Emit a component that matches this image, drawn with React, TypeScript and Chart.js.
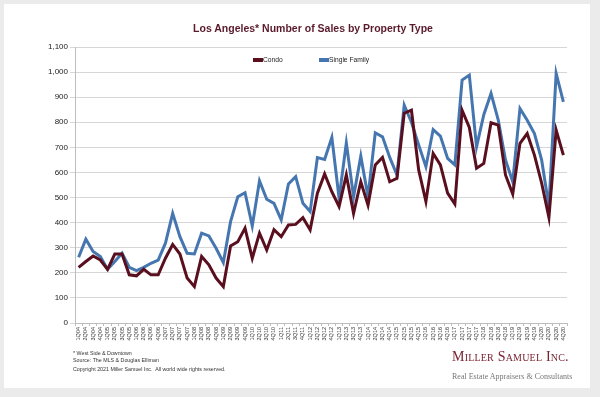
import React, { useEffect, useRef } from "react";
import { Chart, registerables } from "chart.js";
Chart.register(...registerables);

const quarters: string[] = [
  "1Q04","2Q04","3Q04","4Q04","1Q05","2Q05","3Q05","4Q05","1Q06","2Q06","3Q06","4Q06",
  "1Q07","2Q07","3Q07","4Q07","1Q08","2Q08","3Q08","4Q08","1Q09","2Q09","3Q09","4Q09",
  "1Q10","2Q10","3Q10","4Q10","1Q11","2Q11","3Q11","4Q11","1Q12","2Q12","3Q12","4Q12",
  "1Q13","2Q13","3Q13","4Q13","1Q14","2Q14","3Q14","4Q14","1Q15","2Q15","3Q15","4Q15",
  "1Q16","2Q16","3Q16","4Q16","1Q17","2Q17","3Q17","4Q17","1Q18","2Q18","3Q18","4Q18",
  "1Q19","2Q19","3Q19","4Q19","1Q20","2Q20","3Q20","4Q20",
];

const condo: number[] = [
  222, 245, 267, 251, 214, 275, 275, 192, 188, 214, 192, 192,
  258, 313, 275, 179, 145, 265, 232, 179, 145, 307, 324, 378,
  258, 358, 291, 372, 344, 391, 393, 420, 371, 517, 594, 523,
  464, 590, 437, 563, 470, 630, 660, 563, 577, 836, 848, 610,
  484, 676, 630, 518, 474, 848, 779, 617, 636, 798, 789, 590,
  514, 716, 755, 669, 557, 421, 769, 669,
];

const singleFamily: number[] = [
  262, 334, 285, 265, 214, 245, 278, 222, 209, 222, 238, 251,
  318, 437, 344, 278, 275, 358, 347, 298, 241, 404, 503, 519,
  387, 566, 493, 477, 411, 554, 583, 477, 444, 659, 652, 740,
  497, 718, 503, 665, 503, 758, 742, 660, 590, 868, 800, 710,
  623, 771, 745, 656, 630, 968, 988, 702, 830, 915, 809, 650,
  563, 855, 808, 755, 649, 464, 995, 881,
];

const seriesNames: string[] = ["Condo", "Single Family"];
const seriesColors: string[] = ["#5a0f1f", "#4676b0"];

const SANS = "'Liberation Sans', Arial, Helvetica, sans-serif";
const SERIF = "'Liberation Serif', 'Times New Roman', serif";

export default function App() {
  const canvasRef = useRef<HTMLCanvasElement | null>(null);

  useEffect(() => {
    const canvas = canvasRef.current;
    if (!canvas) return;
    const chart = new Chart(canvas, {
      type: "line",
      data: {
        labels: quarters,
        datasets: [
          {
            label: seriesNames[0],
            data: condo,
            borderColor: seriesColors[0],
            backgroundColor: seriesColors[0],
            borderWidth: 3,
            pointRadius: 0,
            tension: 0,
            fill: false,
          },
          {
            label: seriesNames[1],
            data: singleFamily,
            borderColor: seriesColors[1],
            backgroundColor: seriesColors[1],
            borderWidth: 3,
            pointRadius: 0,
            tension: 0,
            fill: false,
          },
        ],
      },
      options: {
        responsive: false,
        animation: false,
        devicePixelRatio: 1,
        layout: { padding: { left: 0, right: 33, top: 47, bottom: 49 } },
        plugins: {
          legend: { display: false },
          title: { display: false },
          tooltip: { enabled: false },
        },
        scales: {
          x: {
            type: "category",
            offset: true,
            afterFit: (scale: any) => {
              scale.height = 25;
            },
            grid: {
              display: true,
              drawOnChartArea: false,
              drawTicks: true,
              tickLength: 3,
              color: "#bdbdbd",
              offset: true,
            },
            border: { display: true, color: "#bdbdbd", width: 1 },
            ticks: {
              autoSkip: false,
              minRotation: 90,
              maxRotation: 90,
              padding: 1,
              color: "#333333",
              font: { family: SANS, size: 5.5 },
            },
          },
          y: {
            min: 0,
            max: 1100,
            afterFit: (scale: any) => {
              scale.width = 75;
            },
            grid: {
              color: "#d6d6d6",
              lineWidth: 1,
              drawTicks: true,
              tickLength: 5,
            },
            border: { display: true, color: "#bdbdbd", width: 1 },
            ticks: {
              stepSize: 100,
              padding: 2,
              color: "#222222",
              font: { family: SANS, size: 8 },
              callback: (v: any) => Number(v).toLocaleString("en-US"),
            },
          },
        },
      },
    });
    return () => chart.destroy();
  }, []);

  const foot: React.CSSProperties = {
    position: "absolute",
    left: 73,
    fontFamily: SANS,
    fontSize: 5.3,
    color: "#333",
    whiteSpace: "nowrap",
    lineHeight: 1,
  };

  return (
    <div
      style={{
        position: "fixed",
        left: 0,
        top: 0,
        width: 600,
        height: 397,
        background: "#ebebeb",
        overflow: "hidden",
      }}
    >
      <div
        style={{
          position: "absolute",
          left: 4,
          top: 4,
          width: 586,
          height: 384,
          background: "#ffffff",
        }}
      />
      <canvas
        ref={canvasRef}
        width={600}
        height={397}
        style={{ position: "absolute", left: 0, top: 0, width: 600, height: 397 }}
      />
      <div
        style={{
          position: "absolute",
          left: 0,
          width: 626,
          top: 23,
          textAlign: "center",
          fontFamily: SANS,
          fontWeight: "bold",
          fontSize: 10.5,
          color: "#5a1a2b",
          whiteSpace: "nowrap",
          lineHeight: 1,
        }}
      >
        Los Angeles* Number of Sales by Property Type
      </div>
      {/* legend */}
      <div style={{ position: "absolute", left: 253, top: 58, width: 10, height: 4, background: seriesColors[0] }} />
      <div style={{ position: "absolute", left: 263, top: 56.5, fontFamily: SANS, fontSize: 6.7, color: "#222", lineHeight: 1, whiteSpace: "nowrap" }}>
        {seriesNames[0]}
      </div>
      <div style={{ position: "absolute", left: 319, top: 58, width: 10, height: 4, background: seriesColors[1] }} />
      <div style={{ position: "absolute", left: 329, top: 56.5, fontFamily: SANS, fontSize: 6.7, color: "#222", lineHeight: 1, whiteSpace: "nowrap" }}>
        {seriesNames[1]}
      </div>
      {/* footnotes */}
      <div style={{ ...foot, top: 351 }}>* West Side &amp; Downtown</div>
      <div style={{ ...foot, top: 357.5 }}>Source: The MLS &amp; Douglas Elliman</div>
      <div style={{ ...foot, top: 367 }}>Copyright 2021 Miller Samuel Inc.&nbsp; All world wide rights reserved.</div>
      {/* logo */}
      <div
        style={{
          position: "absolute",
          left: 452,
          top: 350,
          fontFamily: SERIF,
          fontVariant: "small-caps",
          fontSize: 14,
          color: "#7a2232",
          whiteSpace: "nowrap",
          lineHeight: 1,
          letterSpacing: 0.2,
        }}
      >
        Miller Samuel Inc.
      </div>
      <div
        style={{
          position: "absolute",
          left: 452,
          top: 373,
          fontFamily: SERIF,
          fontSize: 8,
          color: "#777",
          whiteSpace: "nowrap",
          lineHeight: 1,
        }}
      >
        Real Estate Appraisers &amp; Consultants
      </div>
    </div>
  );
}
